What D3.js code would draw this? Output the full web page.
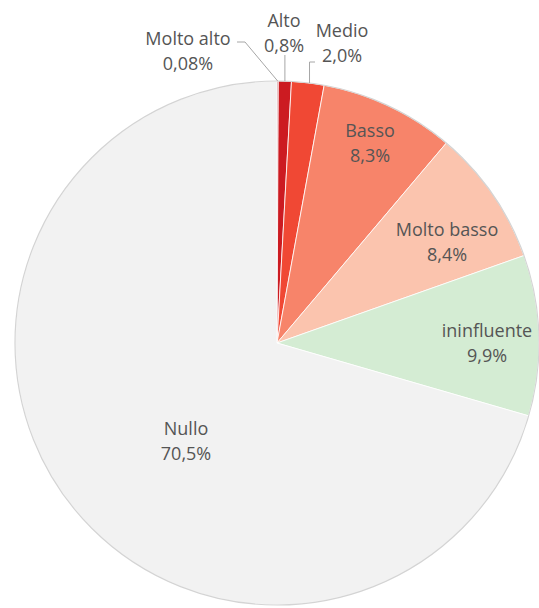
<!DOCTYPE html>
<html><head><meta charset="utf-8">
<script src="https://cdn.jsdelivr.net/npm/d3@7"></script>
<style>html,body{margin:0;padding:0;background:#fff;}svg{display:block;}</style>
</head><body>
<svg id="chart" width="539" height="608"></svg>
<script>
// Data
const categories = ["Molto alto", "Alto", "Medio", "Basso", "Molto basso", "ininfluente", "Nullo"];
const values = [0.08, 0.8, 2.0, 8.3, 8.4, 9.9, 70.5];
const valueLabels = ["0,08%", "0,8%", "2,0%", "8,3%", "8,4%", "9,9%", "70,5%"];
const colors = ["#a50f15", "#cc1b21", "#f04834", "#f7846a", "#fbc4ae", "#d4ecd3", "#f2f2f2"];

// Layout (label baseline placement relative to pie centre, in px)
const cx = 277, cy = 343, R = 262;
const labelPos = [
  {x: -89, y: -298},
  {x: 7, y: -316},
  {x: 65, y: -306},
  {x: 93, y: -206},
  {x: 170, y: -107},
  {x: 210, y: -6},
  {x: -91, y: 92}
];
const lineH = 25;

const svg = d3.select("#chart");
const g = svg.append("g").attr("transform", `translate(${cx},${cy})`);

const pie = d3.pie().sort(null).value(d => d.v);
const data = categories.map((c, i) => ({c, v: values[i], lab: valueLabels[i], col: colors[i], i}));
const arcs = pie(data);
const arc = d3.arc().innerRadius(0).outerRadius(R);

g.selectAll("path.slice").data(arcs).enter().append("path")
  .attr("class", "slice")
  .attr("d", arc)
  .attr("fill", d => d.data.col)
  .attr("stroke", "#ffffff")
  .attr("stroke-width", 0.8);

g.append("circle").attr("r", R).attr("fill", "none").attr("stroke", "#d4d4d4").attr("stroke-width", 1.2);

// leader lines for the three small slices
const outerPt = (a, r) => [r * Math.sin(a), -r * Math.cos(a)];
const lead = g.append("g").attr("fill", "none").attr("stroke", "#a6a6a6").attr("stroke-width", 1);
{
  const a = (arcs[0].startAngle + arcs[0].endAngle) / 2;
  const p = outerPt(a, R);
  lead.append("polyline").attr("points", [[-40, -301], [-32, -301], p].map(q => q.join(",")).join(" "));
}
{
  const a = (arcs[1].startAngle + arcs[1].endAngle) / 2;
  const p = outerPt(a, R);
  lead.append("polyline").attr("points", [[p[0], -288], p].map(q => q.join(",")).join(" "));
}
{
  const a = arcs[2].startAngle + (arcs[2].endAngle - arcs[2].startAngle) * 0.55;
  const p = outerPt(a, R);
  lead.append("polyline").attr("points", [[38, -281], [p[0], -281], p].map(q => q.join(",")).join(" "));
}

const labels = g.selectAll("text.lab").data(arcs).enter().append("text")
  .attr("class", "lab")
  .attr("text-anchor", "middle")
  .attr("font-family", "'Open Sans', sans-serif")
  .attr("font-size", 18)
  .attr("fill", "#555555");
labels.append("tspan").attr("x", (d, i) => labelPos[i].x).attr("y", (d, i) => labelPos[i].y).text(d => d.data.c);
labels.append("tspan").attr("x", (d, i) => labelPos[i].x).attr("y", (d, i) => labelPos[i].y + lineH).text(d => d.data.lab);
</script>
</body></html>
